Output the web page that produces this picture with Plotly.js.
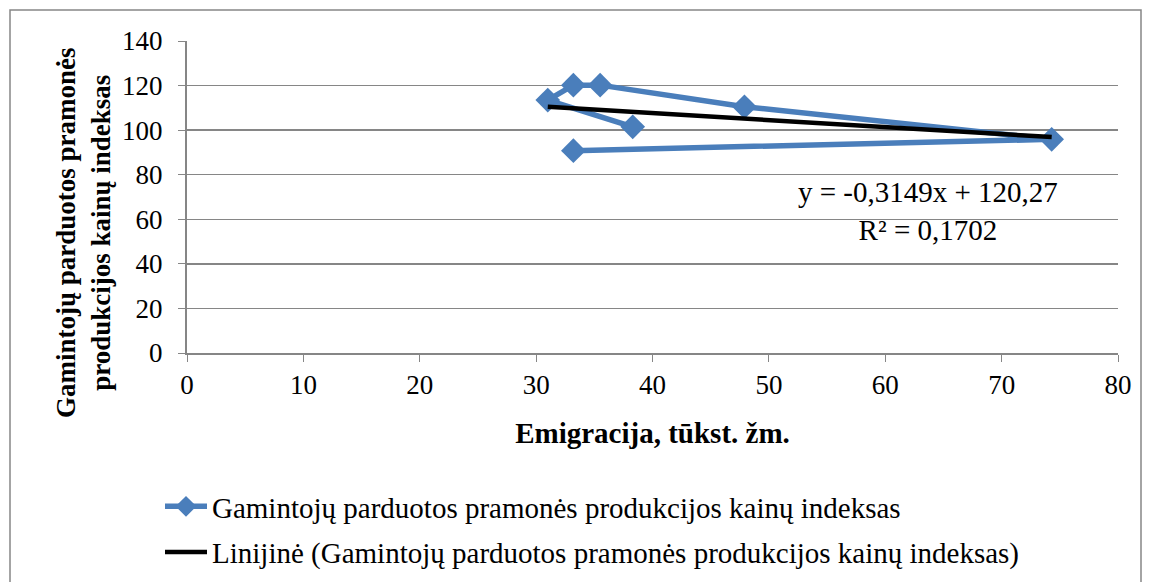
<!DOCTYPE html>
<html><head><meta charset="utf-8">
<script src="https://cdn.plot.ly/plotly-3.0.1.min.js"></script>
<style>html,body{margin:0;padding:0;background:#fff}#c{width:1151px;height:582px}</style>
</head><body><div id="c"></div>
<script>
// Data
const emigration = [33.2, 74.3, 47.9, 35.5, 33.2, 31.0, 38.3];
const priceIndex = [90.8, 95.9, 110.5, 120.2, 120.2, 113.5, 101.5];
const seriesName = "Gamintojų parduotos pramonės produkcijos kainų indeksas";
const trendName = "Linijinė (Gamintojų parduotos pramonės produkcijos kainų indeksas)";
const slope = -0.3149, intercept = 120.27;
const xTicks = [0,10,20,30,40,50,60,70,80];
const yTicks = [0,20,40,60,80,100,120,140];
const yTitle = "<b>Gamintojų parduotos pramonės<br>produkcijos kainų indeksas</b>";
const xTitle = "<b>Emigracija, tūkst. žm.</b>";
const eqText = "y = -0,3149x + 120,27<br>R² = 0,1702";

const xMin = Math.min(...emigration), xMax = Math.max(...emigration);
const trendX = [xMin, xMax];
const trendY = trendX.map(v => slope*v + intercept);

const font = "Liberation Serif";
const traces = [
  {x: emigration, y: priceIndex, name: seriesName, mode: "lines+markers", legendgroup: "a",
   line: {color: "#4a7ebb", width: 5.5}, marker: {symbol: "diamond", size: 19, color: "#4a7ebb"}},
  {x: trendX, y: trendY, name: trendName, mode: "lines", legendgroup: "b", line: {color: "#000", width: 4.5}}
];
const W = 931, H = 312;
const layout = {
  width: 1151, height: 582,
  margin: {l: 187, r: 33, t: 41, b: 229, autoexpand: false},
  paper_bgcolor: "#fff", plot_bgcolor: "#fff",
  font: {family: font, size: 29, color: "#000"},
  showlegend: true,
  legend: {x: (160-187)/W, y: (353-481)/H, xanchor: "left", yanchor: "top", traceorder: "grouped",
           font: {family: font, size: 29, color: "#000"}, tracegroupgap: 5, itemwidth: 42},
  xaxis: {range: [0, 80], tickvals: xTicks, ticktext: xTicks.map(String), showgrid: false, zeroline: false,
          showline: true, linecolor: "#868686", linewidth: 2, ticks: "outside", ticklen: 7, tickcolor: "#868686",
          tickfont: {family: font, size: 27}, fixedrange: true,
          title: {text: xTitle, font: {family: font, size: 29}, standoff: 23}},
  yaxis: {range: [0, 140], tickvals: yTicks, ticktext: yTicks.map(String), showgrid: true, gridcolor: "#868686", gridwidth: 1.5,
          zeroline: false, showline: true, linecolor: "#868686", linewidth: 2, ticks: "outside", ticklen: 7, tickcolor: "#868686",
          tickfont: {family: font, size: 27}, ticklabelstandoff: 10, fixedrange: true},
  annotations: [
    {xref: "paper", yref: "paper", x: (928-187)/W, y: (353-211)/H, xanchor: "center", yanchor: "middle", showarrow: false, align: "center",
     text: eqText, font: {family: font, size: 29, color: "#000"}},
    {xref: "paper", yref: "paper", x: (83-187)/W, y: (353-233)/H, xanchor: "center", yanchor: "middle", showarrow: false, align: "center",
     textangle: -90, text: yTitle, font: {family: font, size: 27, color: "#000"}}
  ],
  shapes: [{type: "rect", xref: "paper", yref: "paper", x0: (10-187)/W, x1: (1141-187)/W, y0: (353-600)/H, y1: (353-10)/H,
    line: {color: "#868686", width: 1.5}, fillcolor: "rgba(0,0,0,0)", layer: "below"}]
};
Plotly.newPlot("c", traces, layout, {displayModeBar: false, staticPlot: true});
</script></body></html>
